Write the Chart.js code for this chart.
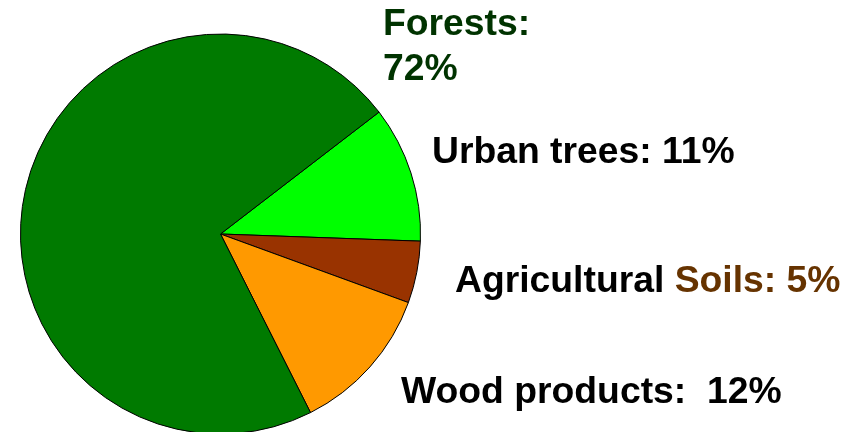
<!DOCTYPE html>
<html lang="en">
<head>
  <meta charset="UTF-8" />
  <title>Carbon storage</title>
  <script src="https://cdn.jsdelivr.net/npm/chart.js"></script>
  <style>
    body {
      margin: 0;
      background: #ffffff;
      overflow: hidden;
    }
    #wrap {
      position: relative;
      width: 850px;
      height: 470px;
    }
  </style>
</head>
<body>
  <div id="wrap"><canvas id="pieChart"></canvas></div>

  <script>
    // dati della torta (ordine orario a partire da Urban trees)
    const categories = ["Urban trees", "Agricultural Soils", "Wood products", "Forests"];
    const shares = [11, 5, 12, 72];
    const sliceColors = ["#00ff00", "#993300", "#ff9900", "#007a00"];

    // testi delle etichette
    const labelLines = [
      { parts: [["Forests:", "#003300"]], x: 383, y: 35 },
      { parts: [["72%", "#003300"]], x: 383, y: 80 },
      { parts: [["Urban trees: 11%", "#000000"]], x: 432, y: 163 },
      { parts: [["Agricultural ", "#000000"], ["Soils: 5%", "#663300"]], x: 455, y: 292 },
      { parts: [["Wood products:  12%", "#000000"]], x: 401, y: 403 },
    ];

    const labelPlugin = {
      id: "sideLabels",
      afterDraw(chart) {
        const c = chart.ctx;
        c.save();
        c.font = "bold 37.3px 'Liberation Sans', Arial, sans-serif";
        c.textBaseline = "alphabetic";
        c.textAlign = "left";
        labelLines.forEach((line) => {
          let x = line.x;
          line.parts.forEach(([txt, col]) => {
            c.fillStyle = col;
            c.fillText(txt, x, line.y);
            x += c.measureText(txt).width;
          });
        });
        c.restore();
      },
    };

    new Chart(document.getElementById("pieChart"), {
      type: "pie",
      data: {
        labels: categories,
        datasets: [
          {
            data: shares,
            backgroundColor: sliceColors,
            borderColor: "#000000",
            borderWidth: 1,
          },
        ],
      },
      options: {
        responsive: true,
        maintainAspectRatio: false,
        animation: false,
        rotation: 52.45,
        layout: {
          padding: { left: 20, right: 429, top: 33.5, bottom: 35.5 },
        },
        plugins: {
          legend: { display: false },
          tooltip: { enabled: false },
        },
      },
      plugins: [labelPlugin],
    });
  </script>
</body>
</html>
